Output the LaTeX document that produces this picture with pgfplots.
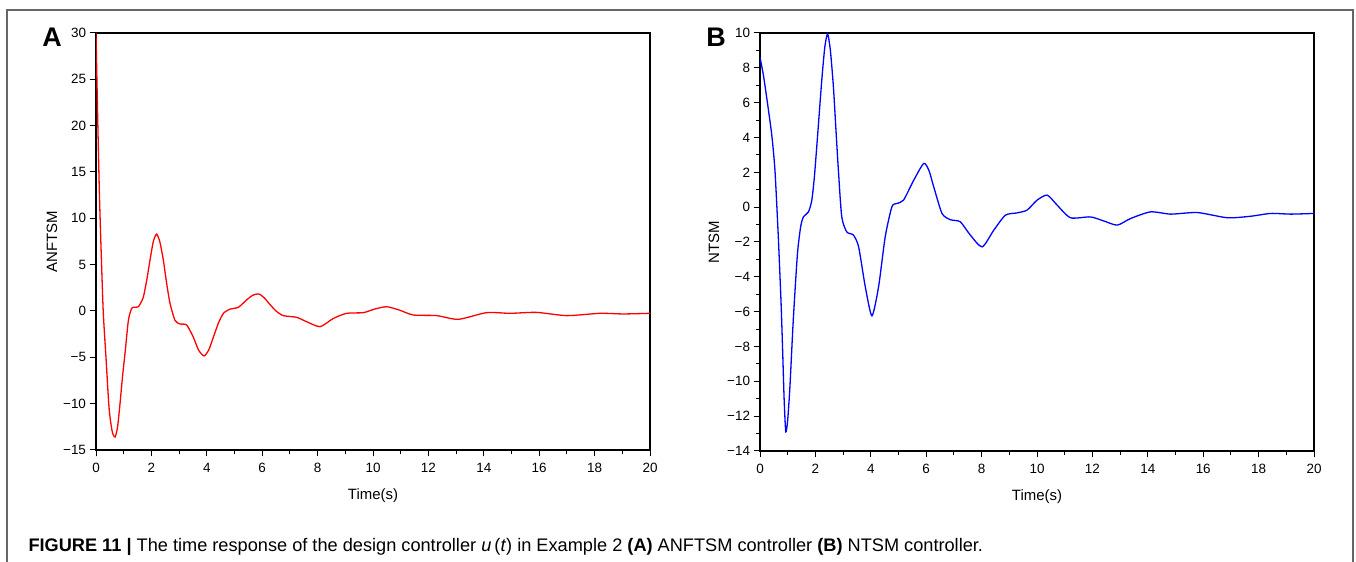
\documentclass[border=0pt]{standalone}
\usepackage{fontspec}
\setmainfont{Liberation Sans}
\usepackage{pgfplots}
\pgfplotsset{compat=1.18}

\pgfplotsset{
  panel/.style={
    scale only axis,
    width=554bp, height=417bp,
    xmin=0, xmax=20,
    xtick={0,2,...,20}, minor x tick num=1,
    axis line style={line width=1.2bp},
    tick style={black, line width=1bp},
    major tick length=6.5bp, minor tick length=4bp,
    tick align=outside,
    xtick pos=bottom, ytick pos=left,
    ticklabel style={font=\fontsize{13.5}{14}\selectfont},
    xticklabel style={yshift=-3bp},
    label style={font=\fontsize{15}{17}\selectfont},
    /pgf/number format/assume math mode=true,
    xlabel={Time(s)},
    xlabel style={yshift=-9bp},
  },
}

\begin{document}
\begin{tikzpicture}[x=1bp,y=1bp]
\path[use as bounding box] (0,0) rectangle (1356,562);
\draw[black!60, line width=1.2bp] (7,0) -- (7,552) -- (1353,552) -- (1353,0);

% panel A
\begin{axis}[panel, at={(96bp,112bp)}, anchor=south west,
  ymin=-15, ymax=30, ytick={-15,-10,...,30},
  yticklabels={−15,−10,−5,0,5,10,15,20,25,30},
  ylabel={ANFTSM},
  ylabel style={at={(rel axis cs:0,0.5)}, yshift=44bp, anchor=center},
]
\addplot[red, line width=1.3bp, smooth, tension=0.4] coordinates {
(0,30) (0.06,21) (0.12,13) (0.18,7) (0.26,0) (0.36,-5) (0.46,-10) (0.52,-11.8)
(0.6,-13.2) (0.69,-13.6) (0.78,-12.5) (0.87,-9.9) (0.96,-7) (1.05,-4.5) (1.17,-1)
(1.29,0.3) (1.4,0.4) (1.53,0.46) (1.62,0.9) (1.71,1.5) (1.83,3.3) (1.95,5.5)
(2.07,7.5) (2.19,8.3) (2.31,7.4) (2.43,5.5) (2.55,3) (2.67,0.85) (2.85,-1.0)
(3.03,-1.4) (3.27,-1.5) (3.51,-2.8) (3.7,-4.2) (3.9,-4.85) (4.07,-4.2) (4.24,-2.8)
(4.42,-1.3) (4.6,-0.25) (4.84,0.2) (5.14,0.4) (5.44,1.2) (5.66,1.7) (5.88,1.84)
(6.08,1.4) (6.28,0.7) (6.5,0) (6.76,-0.5) (7.24,-0.68) (7.6,-1.15) (8.09,-1.69)
(8.57,-0.8) (9.05,-0.25) (9.65,-0.18) (10.05,0.2) (10.49,0.46) (10.95,0.1)
(11.45,-0.43) (12.3,-0.5) (13.08,-0.9) (14.1,-0.18) (14.95,-0.25) (15.9,-0.15)
(17.0,-0.5) (18.2,-0.25) (19.04,-0.32) (20,-0.25)
};
\end{axis}

% panel B
\begin{axis}[panel, at={(760bp,111bp)}, anchor=south west, height=418bp,
  ymin=-14, ymax=10, ytick={-14,-12,...,10}, minor y tick num=1,
  yticklabels={−14,−12,−10,−8,−6,−4,−2,0,2,4,6,8,10},
  ylabel={NTSM},
  ylabel style={at={(rel axis cs:0,0.5)}, yshift=46bp, anchor=center},
]
\addplot[blue, line width=1.3bp, smooth, tension=0.4] coordinates {
(0,8.6) (0.12,7.6) (0.24,6.3) (0.42,4.2) (0.54,2.1) (0.66,-1.7) (0.76,-5.5)
(0.82,-8.4) (0.87,-11) (0.93,-12.9) (1.0,-12.2) (1.08,-10.3) (1.2,-6.5)
(1.35,-2.7) (1.47,-1.1) (1.57,-0.55) (1.75,-0.27) (1.87,0.4) (1.96,1.7)
(2.05,3.5) (2.23,7.3) (2.34,9.2) (2.44,9.95) (2.54,9.0) (2.65,6.9) (2.75,4.2)
(2.83,2.1) (2.95,-0.55) (3.13,-1.42) (3.37,-1.6) (3.56,-2.28) (3.8,-4.57)
(4.04,-6.24) (4.28,-4.57) (4.52,-1.7) (4.76,0.02) (4.94,0.21) (5.18,0.4)
(5.55,1.55) (5.91,2.51) (6.1,2.1) (6.27,1.17) (6.57,-0.36) (6.87,-0.72)
(7.23,-0.84) (7.59,-1.6) (8.02,-2.28) (8.44,-1.32) (8.86,-0.46) (9.28,-0.33)
(9.64,-0.17) (10.0,0.4) (10.37,0.69) (10.73,0.11) (11.21,-0.61) (11.93,-0.56)
(12.42,-0.8) (12.9,-1.03) (13.38,-0.65) (14.1,-0.27) (14.83,-0.4) (15.79,-0.31)
(16.88,-0.61) (17.72,-0.52) (18.44,-0.36) (19.17,-0.4) (20,-0.36)
};
\end{axis}

\node[font=\bfseries\fontsize{27}{27}\selectfont] at (52,525) {A};
\node[font=\bfseries\fontsize{27}{27}\selectfont] at (716,525) {B};
\node[anchor=base west, font=\fontsize{18.25}{20}\selectfont] at (25,10)
  {\textbf{FIGURE 11 |} The time response of the design controller \textit{u}\,(\textit{t}) in Example 2 \textbf{(A)} ANFTSM controller \textbf{(B)} NTSM controller.};
\end{tikzpicture}
\end{document}
